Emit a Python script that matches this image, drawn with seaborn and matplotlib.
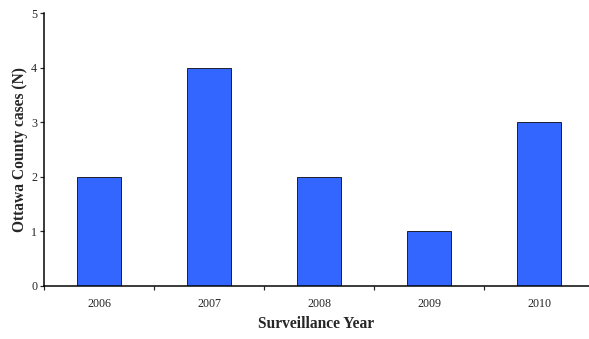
import matplotlib
matplotlib.use("Agg")
import matplotlib.pyplot as plt
import seaborn as sns
import pandas as pd

years = ["2006", "2007", "2008", "2009", "2010"]
cases = [2, 4, 2, 1, 3]

sns.set_style("white")
plt.rcParams["font.family"] = ["Liberation Serif", "DejaVu Serif"]

df = pd.DataFrame({"year": years, "cases": cases})

fig = plt.figure(figsize=(589 / 72, 339 / 72), dpi=72)
ax = fig.add_axes([44 / 589, 53 / 339, 1 - 44 / 589, 273 / 339])
sns.barplot(data=df, x="year", y="cases", color="#3366FF", saturation=1,
            width=0.4, edgecolor="black", linewidth=0.8, ax=ax)

ax.set_xlim(-0.5, 4.45)
ax.set_ylim(0, 5)
ax.set_yticks(range(6))
# ticks sit between the categories, labels under the bars
ax.set_xticks([i + 0.5 for i in range(-1, 4)], minor=False)
ax.set_xticks(range(5), minor=True)
ax.set_xticklabels([])
ax.set_xticklabels(years, minor=True)
ax.tick_params(axis="x", which="major", direction="out", length=4, width=1.2, bottom=True)
ax.tick_params(axis="x", which="minor", length=0, labelsize=12, pad=12)
ax.tick_params(axis="y", direction="out", length=4, width=1.2, left=True, labelsize=12, pad=3)

for s in ["top", "right"]:
    ax.spines[s].set_visible(False)
for s in ["left", "bottom"]:
    ax.spines[s].set_linewidth(1.5)
    ax.spines[s].set_color("black")

ax.set_xlabel("Surveillance Year", fontsize=15.5, fontweight="bold", labelpad=6)
ax.set_ylabel("Ottawa County cases (N)", fontsize=15.5, fontweight="bold", labelpad=3)

fig.savefig("out.png", dpi=72)
